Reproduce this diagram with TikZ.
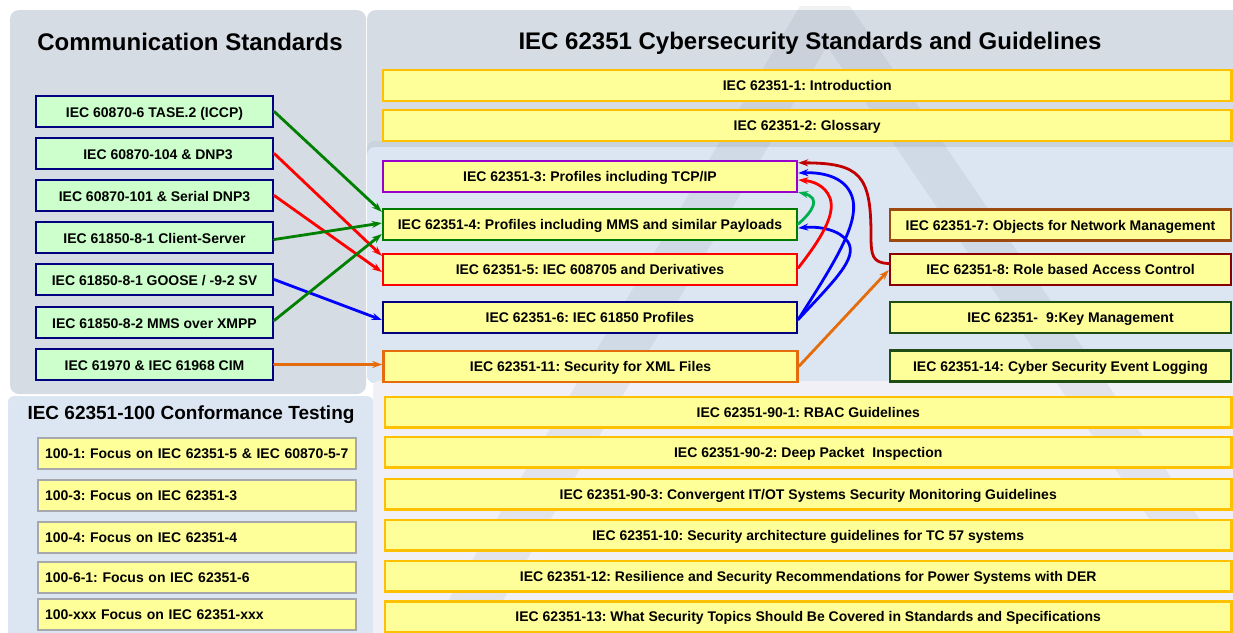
\documentclass[tikz,border=0pt]{standalone}
\usepackage{fontspec}
\setmainfont{Liberation Sans}
\usetikzlibrary{arrows.meta,calc}

% panel and box colours
\definecolor{panelgray}{HTML}{D6DCE4}
\definecolor{panelblue}{HTML}{DCE6F2}
\definecolor{panellav}{HTML}{F1F0F6}
\definecolor{bandtop}{HTML}{C9D3DE}
\definecolor{wmark}{HTML}{5A6A82}
\definecolor{yel}{HTML}{FFFF99}
\definecolor{mint}{HTML}{CCFFCC}
\definecolor{gold}{HTML}{FFC000}
\definecolor{navy}{HTML}{000080}
\definecolor{grayedge}{HTML}{A6A8AC}
\definecolor{purp}{HTML}{9900CC}
\definecolor{dgreen}{HTML}{007A00}
\definecolor{orng}{HTML}{E46C0A}
\definecolor{sienna}{HTML}{9C4A10}
\definecolor{maroon}{HTML}{880000}
\definecolor{forest}{HTML}{1F4E14}
% connector colours
\definecolor{agreen}{HTML}{008000}
\definecolor{ared}{HTML}{FF0000}
\definecolor{ablue}{HTML}{0000FF}
\definecolor{adred}{HTML}{C00000}
\definecolor{alime}{HTML}{00B050}

\frenchspacing

\begin{document}
\begin{tikzpicture}[x=1pt,y=-1pt,
  bx/.style={draw, line width=2.4pt, inner sep=0pt, minimum height=31pt,
    font=\bfseries\fontsize{14}{16}\selectfont\frenchspacing, text height=10pt, text depth=0pt,
    fill=yel},
  gbox/.style={bx, fill=mint, draw=navy, minimum width=237pt, text height=12pt},
  cbox/.style={bx, draw=grayedge, minimum width=318pt, text width=304pt, align=left},
  wbox/.style={bx, draw=gold},
  mbox/.style={bx, minimum width=414pt},
  rbox/.style={bx, minimum width=341pt},
  heading/.style={font=\bfseries\fontsize{24}{28}\selectfont, inner sep=0pt},
  conn/.style={line width=2.8pt, line cap=round, -{Stealth[length=10pt,width=7pt]}},
]
\useasboundingbox (0,0) rectangle (1233,632);
\clip (0,0) rectangle (1233,632);

% ---- background panels ----
\fill[panelgray, rounded corners=9pt] (10,10) rectangle (366,394);
\fill[panelblue, rounded corners=6pt] (8,396) rectangle (373,660);
\fill[panelgray, rounded corners=9pt] (367,10) rectangle (1260,170);
\fill[bandtop, rounded corners=8pt] (367,141) rectangle (1260,383);
\fill[panelblue, rounded corners=8pt] (367,147) rectangle (1260,383);
\fill[panellav, rounded corners=6pt] (373,381) rectangle (1260,660);

% ---- faint logo in the background ----
\fill[wmark, opacity=0.09]
  (800,6) -- (850,6) -- (1200,520) -- (1150,520) -- (826.9,46)
  -- (480,640) -- (425,640) -- cycle;

% ---- headings ----
\node[heading] (hcomm) at (190,42) {Communication Standards};
\node[heading] (hsec) at (810,43) {IEC 62351 Cybersecurity Standards and Guidelines};
\node[heading, font=\bfseries\fontsize{19}{22}\selectfont] (hconf) at (191,415)
  {IEC 62351-100 Conformance Testing};

% ---- communication standards ----
\node[gbox] (g1) at (154.5,111.5) {IEC 60870-6 TASE.2 (ICCP)};
\node[gbox] (g2) at (154.5,153.5) {\hspace{7pt}IEC 60870-104 \& DNP3};
\node[gbox] (g3) at (154.5,195.5) {IEC 60870-101 \& Serial DNP3};
\node[gbox] (g4) at (154.5,237.5) {IEC 61850-8-1 Client-Server\hspace{6pt}};
\node[gbox] (g5) at (154.5,279.5) {IEC 61850-8-1 GOOSE / -9-2 SV\hspace{12pt}};
\node[gbox] (g6) at (154.5,322.5) {IEC 61850-8-2 MMS over XMPP\hspace{5pt}};
\node[gbox] (g7) at (154.5,364.5) {IEC 61970 \& IEC 61968 CIM};

% ---- conformance testing ----
\node[cbox] (c1) at (197,453.5) {100-1: Focus on IEC 62351-5 \& IEC 60870-5-7};
\node[cbox] (c2) at (197,495.5) {100-3: Focus on IEC 62351-3};
\node[cbox] (c3) at (197,537.5) {100-4: Focus on IEC 62351-4};
\node[cbox] (c4) at (197,577.5) {100-6-1: Focus on IEC 62351-6};
\node[cbox] (c5) at (197,614.5) {100-xxx Focus on IEC 62351-xxx};

% ---- IEC 62351 parts ----
\node[wbox, minimum width=848.5pt] (s1) at (807.25,85.5) {IEC 62351-1: Introduction};
\node[wbox, minimum width=848.5pt] (s2) at (807.25,125.5) {IEC 62351-2: Glossary};

\node[mbox, draw=purp] (p3) at (590,176.5) {IEC 62351-3: Profiles including TCP/IP};
\node[mbox, draw=dgreen] (p4) at (590,224.5) {IEC 62351-4: Profiles including MMS and similar Payloads};
\node[mbox, draw=ared] (p5) at (590,269.5) {IEC 62351-5: IEC 608705 and Derivatives};
\node[mbox, draw=navy] (p6) at (590,317.5) {IEC 62351-6: IEC 61850 Profiles};
\node[mbox, draw=orng] (p11) at (590.5,366.5) {IEC 62351-11: Security for XML Files};

\node[rbox, draw=sienna] (p7) at (1060.5,225) {IEC 62351-7: Objects for Network Management};
\node[rbox, draw=maroon] (p8) at (1060.5,269.5) {IEC 62351-8: Role based Access Control};
\node[rbox, draw=forest] (p9) at (1060.5,317.5) {\hspace{20pt}IEC 62351-\hspace{8pt}9:Key Management};
\node[rbox, draw=forest] (p14) at (1060.5,366) {IEC 62351-14: Cyber Security Event Logging};

\node[wbox, minimum width=846.5pt, minimum height=30.5pt] (s901) at (808.25,412.25) {IEC 62351-90-1: RBAC Guidelines};
\node[wbox, minimum width=846.5pt, minimum height=30.5pt] (s902) at (808.25,452.25) {IEC 62351-90-2: Deep Packet\ \ Inspection};
\node[wbox, minimum width=846.5pt, minimum height=30.5pt] (s903) at (808.25,494.25) {IEC 62351-90-3: Convergent IT/OT Systems Security Monitoring Guidelines};
\node[wbox, minimum width=846.5pt, minimum height=30.5pt] (s10) at (808.25,535.25) {IEC 62351-10: Security architecture guidelines for TC 57 systems};
\node[wbox, minimum width=846.5pt, minimum height=30.5pt] (s12) at (808.25,576.25) {IEC 62351-12: Resilience and Security Recommendations for Power Systems with DER};
\node[wbox, minimum width=846.5pt, minimum height=30.5pt] (s13) at (808.25,616.75) {IEC 62351-13: What Security Topics Should Be Covered in Standards and Specifications};

% ---- communication standards to profiles ----
\draw[conn, agreen] (g1.east) -- ($(p4.north west)+(0,4)$);
\draw[conn, ared] (g2.east) -- ($(p5.north west)+(0,3)$);
\draw[conn, ared] (g3.east) -- ($(p5.west)+(0,2.5)$);
\draw[conn, agreen] ($(g4.east)+(0,2)$) -- ($(p4.west)+(0,-1.5)$);
\draw[conn, ablue] (g5.east) -- ($(p6.west)+(0,2.5)$);
\draw[conn, agreen] ($(g6.east)+(0,-2)$) -- ($(p4.west)+(0,9.5)$);
\draw[conn, orng] (g7.east) -- (g7.east -| p11.west);

% ---- links between IEC 62351 parts ----
\draw[conn, adred] ($(p8.west)+(0,-6)$)
  .. controls (872,263) and (871,255) .. (871,235)
  .. controls (871,175) and (860,163) .. ($(p3.north east)+(0,3)$);
\draw[conn, ablue] ($(p6.east)+(0,2)$)
  .. controls (835,262) and (858,225) .. (853,200)
  .. controls (848,178) and (825,172) .. ($(p3.east)+(0,-3.5)$);
\draw[conn, ablue] ($(p6.east)+(0,2)$)
  .. controls (835,280) and (858,258) .. (848,242)
  .. controls (840,230) and (820,226) .. ($(p4.east)+(0,3.5)$);
\draw[conn, ared] ($(p5.east)+(0,-1.5)$)
  .. controls (820,240) and (836,215) .. (830,198)
  .. controls (825,185) and (812,181) .. ($(p3.east)+(0,3.5)$);
\draw[conn, alime] ($(p4.east)+(0,-0.5)$)
  .. controls (812,212) and (822,198) .. ($(p3.south east)+(0,-1)$);
\draw[conn, orng] (p11.east) -- ($(p8.west)+(0,0.5)$);
\end{tikzpicture}
\end{document}
